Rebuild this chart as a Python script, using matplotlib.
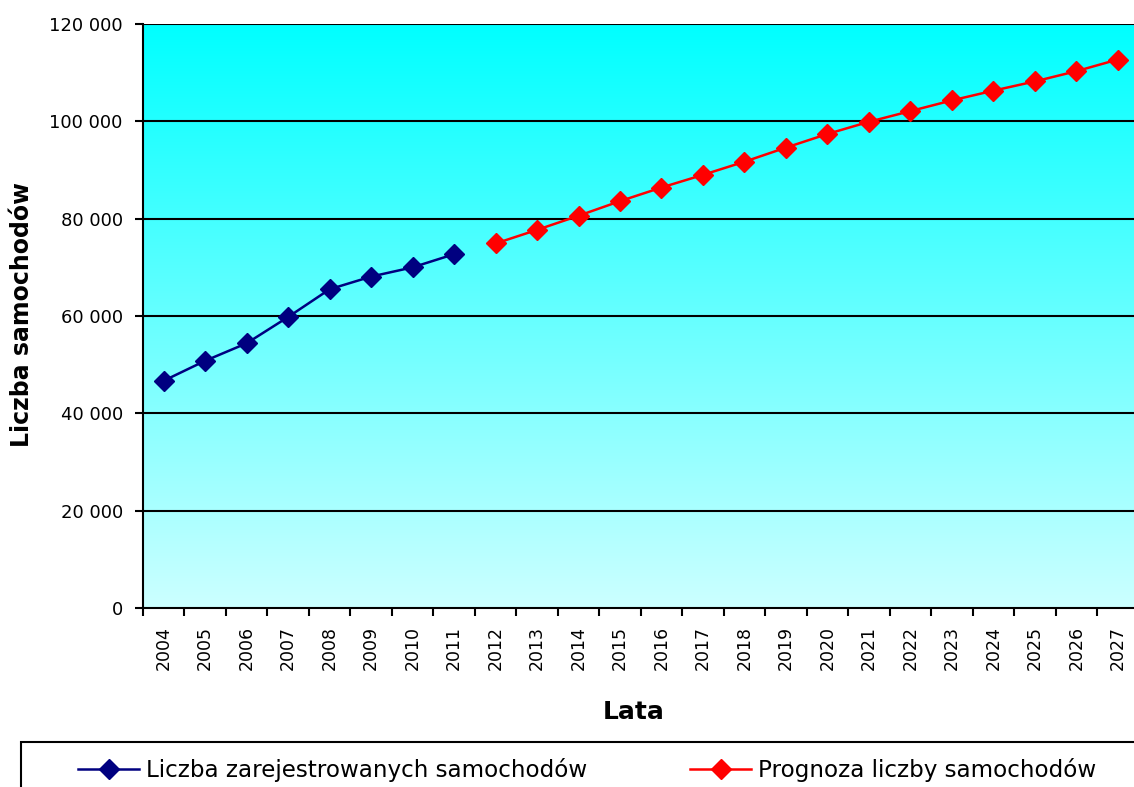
import numpy as np
import matplotlib
matplotlib.use("Agg")
import matplotlib.pyplot as plt
from matplotlib.patches import Rectangle
from matplotlib.ticker import FuncFormatter, FixedLocator

years = [str(y) for y in range(2004, 2028)]
hist_years = years[:8]
hist_values = [46700, 50800, 54400, 59800, 65500, 68100, 70000, 72700]
fc_years = years[8:]
fc_values = [74900, 77700, 80600, 83600, 86400, 89000, 91700, 94600, 97400,
             99900, 102100, 104300, 106300, 108200, 110300, 112700]
hist_label = "Liczba zarejestrowanych samochodów"
fc_label = "Prognoza liczby samochodów"
y_ticks = [0, 20000, 40000, 60000, 80000, 100000, 120000]

W, H = 1134, 787
fig = plt.figure(figsize=(W / 100, H / 100), dpi=100)
left, right, top, bottom = 143, 1138.5, 24, 608
ax = fig.add_axes([left / W, 1 - bottom / H, (right - left) / W, (bottom - top) / H])

# gradient background
grad = np.linspace(0, 1, 256).reshape(-1, 1)
c_top = np.array([0.0, 1.0, 1.0])
c_bot = np.array([0.80, 1.0, 1.0])
img = c_top[None, None, :] * (1 - grad[:, :, None]) + c_bot[None, None, :] * grad[:, :, None]
ax.imshow(img, extent=[-0.5, len(years) - 0.5, 0, 120000], aspect="auto", zorder=0, origin="upper")

x_idx = {y: i for i, y in enumerate(years)}
hx = [x_idx[y] for y in hist_years]
fx = [x_idx[y] for y in fc_years]
h1, = ax.plot(hx, hist_values, color="#000080", lw=1.8, marker="D", ms=10.5, mec="#000080", zorder=3, label=hist_label)
h2, = ax.plot(fx, fc_values, color="#FF0000", lw=1.8, marker="D", ms=10.5, mec="#FF0000", zorder=3, label=fc_label)

ax.set_xlim(-0.5, len(years) - 0.5)
ax.set_ylim(0, 120000)
ax.set_yticks(y_ticks)
ax.yaxis.set_major_formatter(FuncFormatter(lambda v, p: f"{int(v):,}".replace(",", " ")))
for v in y_ticks[1:]:
    ax.axhline(v, color="black", lw=1.5, zorder=2)

ax.set_xticks(range(len(years)))
ax.set_xticklabels(years, rotation=90, fontsize=12.5)
ax.xaxis.set_minor_locator(FixedLocator(np.arange(-0.5, len(years), 1.0)))
ax.tick_params(axis="x", which="major", length=0, pad=13)
ax.tick_params(axis="x", which="minor", length=6, width=1.5, direction="out")
ax.tick_params(axis="y", length=6, width=1.5, direction="out", labelsize=13, pad=8.5)

for s in ["top", "right"]:
    ax.spines[s].set_visible(False)
ax.spines["left"].set_linewidth(1.5)
ax.spines["bottom"].set_linewidth(1.5)

fig.text(22.5 / W, 1 - 315 / H, "Liczba samochodów", rotation=90, fontsize=17, fontweight="bold",
         ha="center", va="center")
fig.text(634 / W, 1 - 712 / H, "Lata", fontsize=18, fontweight="bold", ha="center", va="center")

# legend frame (extends beyond figure edges)
fig.patches.append(Rectangle((21 / W, -0.1), 1.2, 0.1 + (787 - 742) / H, transform=fig.transFigure,
                             fill=False, edgecolor="black", lw=1.5, clip_on=False))
fig.legend([h1], [hist_label], loc="center left", bbox_to_anchor=(78 / W, 1 - 770 / H), frameon=False,
           fontsize=16.6, handlelength=2.65, handletextpad=0.3, borderpad=0, borderaxespad=0)
fig.legend([h2], [fc_label], loc="center left", bbox_to_anchor=(690 / W, 1 - 770 / H), frameon=False,
           fontsize=16.6, handlelength=2.65, handletextpad=0.3, borderpad=0, borderaxespad=0)

fig.savefig("out.png", dpi=100)
